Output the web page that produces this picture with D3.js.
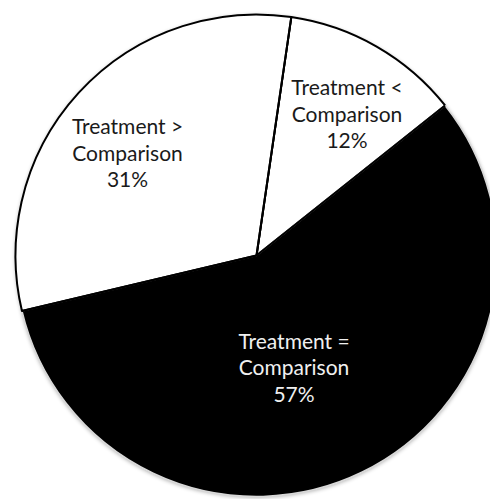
<!DOCTYPE html>
<html>
<head>
<meta charset="utf-8">
<script src="https://cdn.jsdelivr.net/npm/d3@7/dist/d3.min.js"></script>
<style>
html,body{margin:0;padding:0;background:#fff;overflow:hidden;}
</style>
</head>
<body>
<svg id="chart" width="490" height="499"></svg>
<script>
// Data
const categories = ["Treatment <\nComparison", "Treatment =\nComparison", "Treatment >\nComparison"];
const values = [12, 57, 31];
const percentLabels = ["12%", "57%", "31%"];
const fills = ["#ffffff", "#000000", "#ffffff"];

const W = 490, H = 499;
const cx = 256.5, cy = 255.5, R = 241;
const startDeg = 8.3;

const svg = d3.select("#chart");
const defs = svg.append("defs");
const f = defs.append("filter").attr("id","shadow").attr("x","-10%").attr("y","-10%").attr("width","120%").attr("height","120%");
f.append("feGaussianBlur").attr("in","SourceAlpha").attr("stdDeviation",2).attr("result","b");
f.append("feOffset").attr("in","b").attr("dx",0).attr("dy",1).attr("result","o");
f.append("feComponentTransfer").attr("in","o").attr("result","o2")
  .append("feFuncA").attr("type","linear").attr("slope",0.35);
const m = f.append("feMerge");
m.append("feMergeNode").attr("in","o2");
m.append("feMergeNode").attr("in","SourceGraphic");

const g = svg.append("g").attr("transform", `translate(${cx},${cy})`);

const pie = d3.pie().sort(null).value(d => d)
  .startAngle(startDeg * Math.PI / 180)
  .endAngle(startDeg * Math.PI / 180 + 2 * Math.PI);
const arcs = pie(values);
const arc = d3.arc().innerRadius(0).outerRadius(R);

// shadow base
g.append("circle").attr("r", R).attr("fill", "#fff").attr("filter", "url(#shadow)");

g.selectAll("path.slice").data(arcs).enter().append("path")
  .attr("class","slice")
  .attr("d", arc)
  .attr("fill", (d,i) => fills[i])
  .attr("stroke", (d,i) => fills[i] === "#000000" ? "#d8d8d8" : "#000")
  .attr("stroke-width", (d,i) => fills[i] === "#000000" ? 1.5 : 2)
  .attr("stroke-linejoin","round");

// radial separators (black)
g.selectAll("line.sep").data(arcs).enter().append("line")
  .attr("class","sep")
  .attr("x1",0).attr("y1",0)
  .attr("x2", d => R * Math.sin(d.startAngle))
  .attr("y2", d => -R * Math.cos(d.startAngle))
  .attr("stroke","#000").attr("stroke-width",2);

// label placement: angle offset (deg) and radius per slice
const labelLayout = [
  {dAng: 2.8, r: 167.5},
  {dAng: 7.4, r: 118.3},
  {dAng: -4.1, r: 164.6}
];
const fontSize = 21, lineH = 26.5;
arcs.forEach((d, i) => {
  const mid = (d.startAngle + d.endAngle) / 2 + labelLayout[i].dAng * Math.PI / 180;
  const x = labelLayout[i].r * Math.sin(mid);
  const y = -labelLayout[i].r * Math.cos(mid);
  const lines = categories[i].split("\n").concat([percentLabels[i]]);
  const t = g.append("text")
    .attr("x", x).attr("y", y)
    .attr("text-anchor","middle")
    .attr("font-family","Lato, 'Open Sans', sans-serif")
    .attr("font-size", fontSize)
    .attr("fill", fills[i] === "#000000" ? "#f0f0f0" : "#1a1a1a");
  lines.forEach((ln, k) => {
    t.append("tspan").attr("x", x)
      .attr("y", y + (k - (lines.length - 1) / 2) * lineH)
      .attr("dy", "0.35em")
      .text(ln);
  });
});
</script>
</body>
</html>
